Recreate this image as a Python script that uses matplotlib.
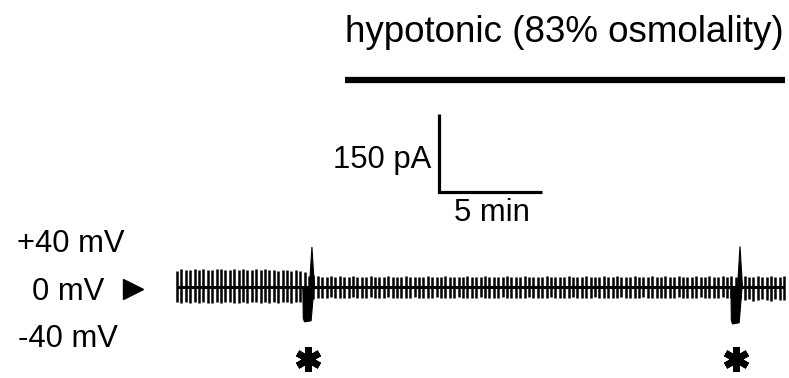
import numpy as np
import matplotlib
matplotlib.use("Agg")
from matplotlib import pyplot as plt
from matplotlib.markers import MarkerStyle

plt.rcParams['font.family'] = ['Liberation Sans', 'DejaVu Sans']

# ramp sweeps, one every ~12.8 s; peak outward / inward current per sweep (pA)
sweep_interval_min = 0.2136
up_pa = [30, 34, 33, 32, 35, 33, 34, 32, 33, 35, 34, 33, 32, 34, 33, 35, 33, 32, 34, 33,
         34, 32, 33, 31, 33, 32, 31, 32, 30, 29, 22, 24,
         21, 20, 19, 21, 20, 22, 20, 19, 21, 20, 19, 20, 21, 20, 19, 20, 21, 20,
         20, 19, 21, 20, 20, 19, 20, 21, 19, 20, 20, 21, 20, 19, 20, 20, 21, 19, 20, 20,
         21, 20, 19, 20, 20, 21, 20, 19, 20, 21, 20, 20, 19, 20, 21, 20, 19, 20, 20, 21,
         20, 19, 20, 21, 20, 20, 19, 21, 20, 20, 21, 19, 20, 20, 21, 20, 19, 20, 21, 20,
         20, 21, 19, 20, 21, 20, 20, 19, 21, 20, 20, 21, 19, 20, 21, 20, 21, 20,
         20, 21, 20, 19, 21, 20, 20, 21, 19, 20, 21]
down_pa = [28, 30, 29, 31, 29, 30, 28, 30, 31, 29, 30, 29, 28, 30, 31, 29, 30, 28, 29, 30,
           29, 31, 29, 30, 28, 29, 30, 29, 28, 27, 22, 23,
           21, 22, 21, 20, 22, 21, 21, 22, 20, 21, 22, 21, 20, 21, 22, 21, 20, 22, 21, 21,
           22, 21, 20, 21, 22, 21, 21, 20, 22, 21, 21, 22, 20, 21, 21, 22, 21, 20, 21, 22,
           21, 21, 20, 22, 21, 21, 22, 21, 20, 21, 22, 21, 21, 20, 22, 21, 21, 22, 20, 21,
           22, 21, 21, 20, 22, 21, 21, 22, 21, 20, 21, 22, 21, 21, 20, 22, 21, 21, 22, 21,
           21, 22, 20, 21, 22, 21, 21, 20, 22, 21, 21, 22, 20, 21, 22, 21,
           24, 25, 24, 26, 25, 24, 25, 26, 24, 25, 25]

# transient events (marked *)
spike_times = [6.55, 27.33]
spike_up = [77, 78]
spike_down = [67, 71]

# solution change
hypo_start, hypo_end = 8.16, 29.51

fig = plt.figure(figsize=(7.89, 3.78), dpi=100)
ax = fig.add_axes([0, 0, 1, 1])
ax.set_xlim(-177 / 20.6, 612 / 20.6)
ax.set_ylim(-91 / 0.52, 287 / 0.52)
ax.axis('off')

n = min(len(up_pa), len(down_pa))
t = np.arange(n) * sweep_interval_min
ax.vlines(t, -np.array(down_pa[:n]), np.array(up_pa[:n]), color='black', lw=1.8)
ax.plot([t[0], t[-1]], [0, 0], color='black', lw=2.2, solid_capstyle='butt')

# spike waveform: narrow outward peak, broader inward wedge
for ts, u, d in zip(spike_times, spike_up, spike_down):
    ax.fill([ts - 0.12, ts, ts + 0.12], [0, u, 0], color='black', lw=0.8)
    ax.fill([ts - 0.44, ts - 0.42, ts - 0.36, ts - 0.04, ts + 0.1],
            [0, -0.9 * d, -d, -0.97 * d, 0], color='black', lw=0.8)
    ax.plot(ts - 0.2, -138, ls='none', color='black',
            marker=MarkerStyle((6, 2, 0), capstyle='round'), markersize=18, mew=4.8)

# hypotonic bar and label
ax.plot([hypo_start, hypo_end], [398, 398], color='black', lw=4.5, solid_capstyle='butt')
ax.text(hypo_start, 471, 'hypotonic (83% osmolality)', fontsize=26.5,
        ha='left', va='baseline')

# scale bar
sx, sy = 12.72, 182.7
ax.plot([sx, sx, sx + 5], [sy + 150, sy, sy], color='black', lw=2.3,
        solid_joinstyle='miter', solid_capstyle='butt')
ax.text(12.33, 228.8, '150 pA', fontsize=22.3, ha='right', va='baseline')
ax.text(15.29, 126.9, '5 min', fontsize=22.3, ha='center', va='baseline')

# holding potential labels
ax.text(-7.77, 67.3, '+40 mV', fontsize=22.3, ha='left', va='baseline')
ax.text(-7.04, -25, '0 mV', fontsize=22.3, ha='left', va='baseline')
ax.text(-7.72, -115.4, '-40 mV', fontsize=22.3, ha='left', va='baseline')
ax.plot(-2.14, -3.8, marker='>', color='black', markersize=14, ls='none')

fig.savefig('out.png', dpi=100)
